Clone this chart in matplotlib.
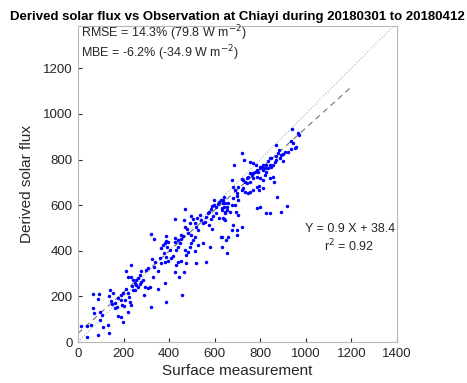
import matplotlib.pyplot as plt
import numpy as np

plt.rcParams["font.family"] = ["Liberation Sans", "DejaVu Sans"]

surface = [
    15, 41, 56, 38, 88, 135, 110, 132, 69, 66, 98, 105, 95, 66, 91, 88, 139, 136, 154, 146,
    151, 161, 173, 164, 175, 187, 190, 194, 202, 205, 197, 212, 219, 224, 227, 231, 241, 237,
    249, 256, 263, 270, 278, 287, 292, 307, 314, 289, 300, 307, 278, 270, 234, 212, 219, 231,
    241, 256, 263, 249, 175, 190, 197, 219, 319, 351, 383, 386, 456, 442, 424, 431, 439, 409,
    395, 387, 377, 383, 366, 358, 336, 325, 329, 333, 351, 363, 373, 383, 392, 402, 417, 431,
    439, 446, 453, 461, 453, 439, 427, 424, 387, 333, 319, 387, 395, 468, 475, 482, 490, 497,
    504, 512, 497, 482, 480, 468, 465, 471, 424, 490, 497, 504, 512, 519, 526, 523, 534, 541,
    548, 556, 563, 570, 577, 582, 589, 599, 607, 614, 621, 629, 636, 643, 632, 646, 607, 592,
    585, 577, 588, 548, 512, 519, 563, 579, 626, 632, 651, 654, 639, 621, 596, 643, 526, 475,
    453, 465,
    941, 966, 971, 937, 944, 952, 959, 933, 922, 908, 901, 893, 883, 879, 871, 868, 886, 898,
    871, 864, 857, 849, 842, 835, 842, 849, 835, 827, 820, 813, 806, 798, 791, 784, 776, 769,
    762, 754, 747, 740, 732, 725, 718, 740, 757, 769, 784, 798, 810, 820, 827, 854, 860, 842,
    795, 784, 769, 754, 747, 732, 725, 718, 703, 696, 689, 681, 678, 684, 718, 728, 754, 766,
    781, 798, 813, 681, 696, 703, 689, 674, 659, 652, 645, 637, 634, 645, 655, 667, 693, 703,
    637, 645, 681, 678, 696, 718, 696, 659, 630, 798, 784, 827, 842, 889, 874, 918, 813, 795,
]
derived = [
    72, 72, 73, 22, 31, 39, 64, 73, 127, 149, 133, 120, 96, 209, 209, 189, 228, 203, 213, 180,
    167, 149, 155, 170, 191, 206, 184, 162, 158, 184, 213, 231, 213, 196, 177, 162, 228, 246,
    257, 250, 240, 254, 265, 272, 243, 235, 240, 206, 316, 323, 313, 294, 338, 311, 286, 286,
    272, 272, 279, 228, 115, 111, 89, 133, 155, 231, 257, 174, 205, 287, 308, 338, 352, 367,
    355, 374, 389, 352, 345, 367, 352, 366, 287, 327, 313, 411, 425, 433, 418, 403, 377, 403,
    418, 436, 450, 465, 469, 447, 440, 455, 465, 450, 474, 444, 439, 403, 382, 396, 418, 433,
    447, 462, 469, 477, 494, 506, 535, 582, 538, 523, 553, 538, 520, 506, 491, 542, 557, 535,
    520, 528, 550, 564, 572, 582, 596, 601, 594, 605, 615, 623, 608, 594, 579, 564, 564, 553,
    538, 513, 494, 436, 399, 348, 352, 418, 459, 418, 447, 389, 538, 542, 623, 634, 425, 345,
    355, 308,
    934, 915, 908, 879, 871, 850, 857, 845, 835, 835, 825, 820, 842, 828, 816, 864, 806, 795,
    798, 787, 776, 806, 806, 795, 776, 769, 762, 776, 762, 754, 769, 762, 747, 754, 747, 740,
    732, 743, 725, 718, 703, 708, 714, 696, 703, 718, 725, 718, 711, 732, 747, 725, 703, 718,
    667, 681, 667, 659, 652, 659, 674, 667, 681, 652, 667, 681, 711, 776, 828, 798, 791, 784,
    776, 769, 776, 630, 638, 623, 601, 601, 608, 594, 608, 623, 586, 572, 579, 572, 572, 557,
    542, 535, 513, 491, 491, 506, 469, 462, 462, 594, 586, 564, 564, 569, 635, 598, 674, 684,
]

slope = 0.9
intercept = 38.4
rmse_line = "RMSE = 14.3% (79.8 W m$^{-2}$)"
mbe_line = "MBE = -6.2% (-34.9 W m$^{-2}$)"
fit_line = "Y = 0.9 X + 38.4"
r2_line = "r$^2$ = 0.92"

fig = plt.figure(figsize=(4.67, 3.83), dpi=100)
ax = fig.add_axes([0.167, 0.107, 0.683, 0.825])

one_to_one = np.array([0, 1400])
ax.plot(one_to_one, one_to_one, linestyle=":", color="#b0b0b0", linewidth=0.8)
fit_x = np.array([0, 1200])
ax.plot(fit_x, slope * fit_x + intercept, linestyle=(0, (5, 4)), color="#707070", linewidth=0.8)
ax.plot(surface, derived, linestyle="none", marker="o", markersize=2.5, color="blue",
        markeredgewidth=0)

ax.set_xlim(0, 1400)
ax.set_ylim(0, 1385)
ax.set_xticks(np.arange(0, 1401, 200))
ax.set_yticks(np.arange(0, 1201, 200))
ax.tick_params(direction="in", length=3, labelsize=9.5, colors="#262626", pad=4)
for spine in ax.spines.values():
    spine.set_color("#b8b8b8")
    spine.set_linewidth(0.8)

ax.set_xlabel("Surface measurement", fontsize=11, color="#262626", labelpad=3)
ax.set_ylabel("Derived solar flux", fontsize=11, color="#262626", labelpad=6)
ax.set_title("Derived solar flux vs Observation at Chiayi during 20180301 to 20180412",
             fontsize=9.5, fontweight="bold", pad=4)

text_style = dict(transform=ax.transAxes, va="center", ha="left", fontsize=9, color="#262626")
ax.text(0.01, 0.978, rmse_line, **text_style)
ax.text(0.01, 0.914, mbe_line, **text_style)
ax.text(0.712, 0.358, fit_line, **text_style)
ax.text(0.772, 0.303, r2_line, **text_style)

fig.savefig("out.png", facecolor="white")
